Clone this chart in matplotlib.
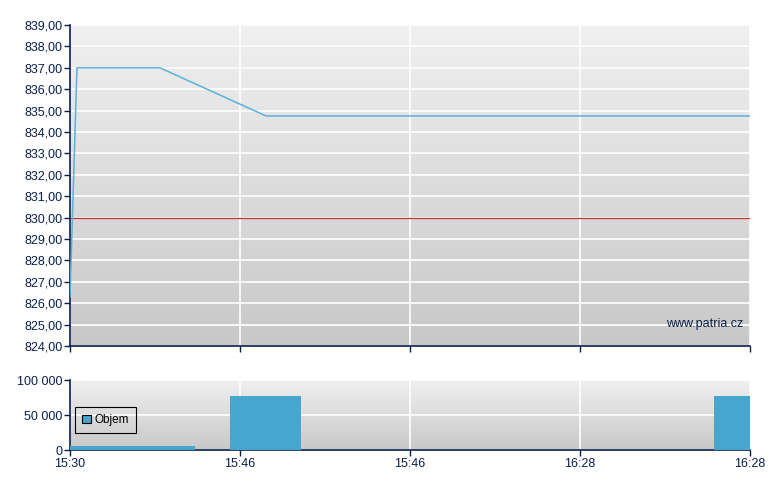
import numpy as np
import matplotlib.pyplot as plt
from matplotlib.ticker import FuncFormatter, MultipleLocator

# casove pozice (0 = 15:30, 1 dilek = jeden popisek osy)
cas_x = [0.0, 0.041, 0.529, 1.153, 4.0]
cena = [826.3, 837.0, 837.0, 834.75, 834.75]

objem_x = [0.0, 0.941, 3.788]
objem_sirka = [0.735, 0.418, 0.212]
objem = [5500, 77000, 77000]

popisky_x = ["15:30", "15:46", "15:46", "16:28", "16:28"]
ref_cena = 830.0

navy = "#0a1f4a"
modra_cara = "#5ab2da"
modra_sloupec = "#46a6ce"

plt.rcParams['font.family'] = ['Liberation Sans', 'DejaVu Sans']
plt.rcParams['font.size'] = 9


def gradient(ax, top="#f0f0f0", bottom="#c8c8c8"):
    c1 = np.array(plt.matplotlib.colors.to_rgb(top))
    c2 = np.array(plt.matplotlib.colors.to_rgb(bottom))
    t = np.linspace(0, 1, 256)[:, None]
    img = (c1 * (1 - t) + c2 * t)[:, None, :]
    ax.imshow(img, aspect='auto', extent=(0, 1, 0, 1), transform=ax.transAxes,
              zorder=0, interpolation='bilinear')


def styl(ax):
    for s in ["top", "right"]:
        ax.spines[s].set_visible(False)
    for s in ["left", "bottom"]:
        ax.spines[s].set_color(navy)
        ax.spines[s].set_linewidth(1.2)
    ax.tick_params(colors=navy, length=4, width=1, direction='out', labelcolor=navy,
                   labelsize=9, pad=1.5)
    ax.grid(True, color="white", linewidth=1.2, zorder=1)
    ax.set_axisbelow(True)


fig = plt.figure(figsize=(7.8, 4.9), dpi=100)
W, H = 780, 490
ax1 = fig.add_axes([70 / W, 1 - 346 / H, 680 / W, 321 / H])
ax2 = fig.add_axes([70 / W, 1 - 450 / H, 680 / W, 70 / H])

gradient(ax1)
ax1.plot(cas_x, cena, color=modra_cara, linewidth=1.1, zorder=3)
ax1.axhline(ref_cena, color="#c03535", linewidth=0.9, zorder=2)
ax1.set_xlim(0, 4)
ax1.set_ylim(824, 839)
ax1.yaxis.set_major_locator(MultipleLocator(1))
ax1.yaxis.set_major_formatter(FuncFormatter(lambda v, p: f"{v:.2f}".replace(".", ",")))
ax1.set_xticks(range(5))
ax1.set_xticklabels([])
styl(ax1)
ax1.text(0.99, 0.05, "www.patria.cz", transform=ax1.transAxes, ha='right', va='bottom',
         color=navy, fontsize=9, zorder=4)

gradient(ax2)
ax2.bar(objem_x, objem, width=objem_sirka, align='edge', color=modra_sloupec,
        zorder=3, label="Objem")
ax2.set_xlim(0, 4)
ax2.set_ylim(0, 100000)
ax2.set_yticks([0, 50000, 100000])
ax2.yaxis.set_major_formatter(FuncFormatter(lambda v, p: f"{int(v):,}".replace(",", " ")))
ax2.set_xticks(range(5))
ax2.set_xticklabels(popisky_x)
styl(ax2)
leg = ax2.legend(loc='lower left', bbox_to_anchor=(0.007, 0.24), fancybox=False,
                 framealpha=1, edgecolor="black", facecolor="none", fontsize=8.5,
                 handlelength=0.75, handleheight=0.75, handletextpad=0.35,
                 borderpad=0.6, borderaxespad=0)
leg.get_frame().set_linewidth(0.8)
for h in leg.legend_handles:
    h.set_edgecolor("black")
    h.set_linewidth(0.8)

fig.savefig("out.png", dpi=100)
